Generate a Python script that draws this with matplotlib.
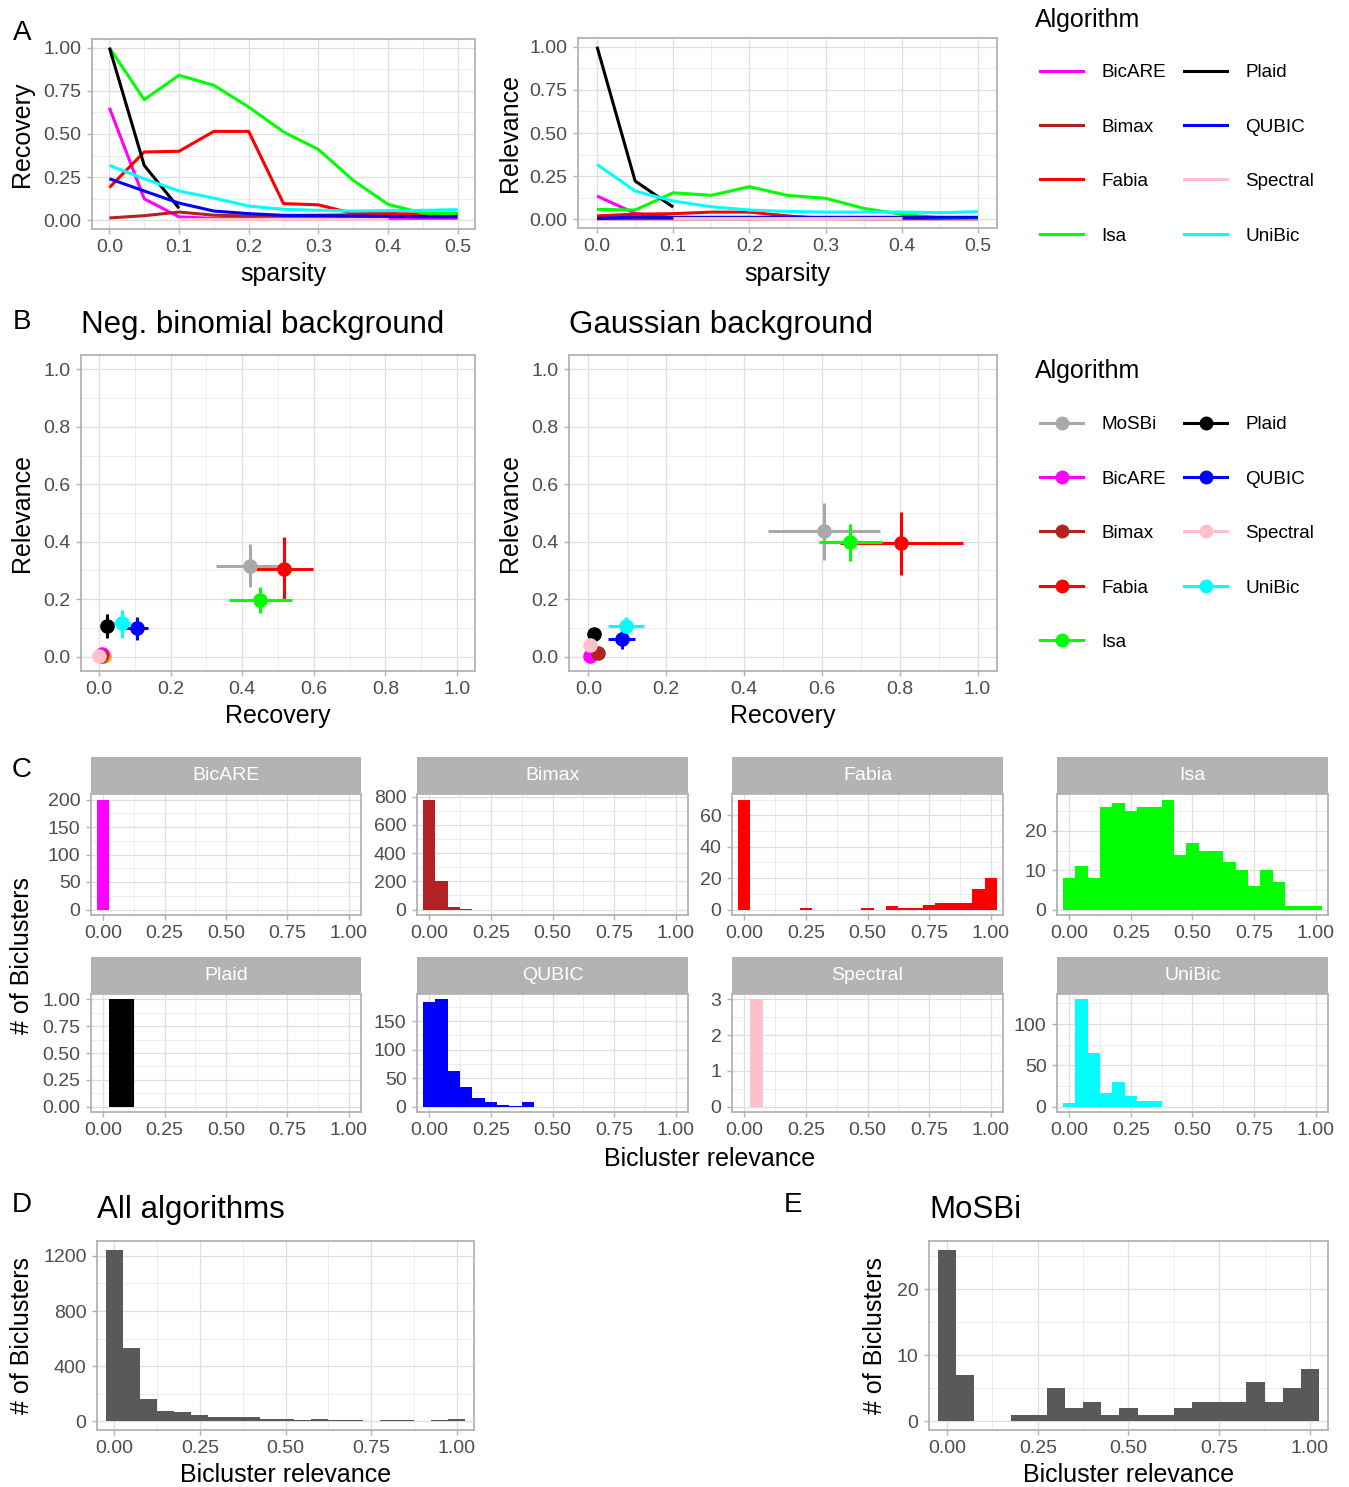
import numpy as np
import matplotlib
matplotlib.use("Agg")
import matplotlib.pyplot as plt
from matplotlib.ticker import AutoMinorLocator, FormatStrFormatter
from matplotlib.lines import Line2D

plt.rcParams['font.family'] = ['Liberation Sans', 'DejaVu Sans']

W, H = 1349, 1487
nan = np.nan

algos = ['BicARE', 'Bimax', 'Fabia', 'Isa', 'Plaid', 'QUBIC', 'Spectral', 'UniBic']
colors = {'MoSBi': '#A9A9A9', 'BicARE': '#FF00FF', 'Bimax': '#B22222',
          'Fabia': '#FF0000', 'Isa': '#00FF00', 'Plaid': '#000000',
          'QUBIC': '#0000FF', 'Spectral': '#FFC0CB', 'UniBic': '#00FFFF'}

# panel A: scores vs sparsity
sparsity = [0.0, 0.05, 0.1, 0.15, 0.2, 0.25, 0.3, 0.35, 0.4, 0.45, 0.5]
recovery = {
    'BicARE': [0.652, 0.125, 0.02, 0.012, 0.012, 0.012, 0.012, 0.012, 0.012, 0.012, 0.012],
    'Bimax': [0.014, 0.027, 0.048, 0.03, 0.025, 0.028, 0.03, 0.032, 0.035, 0.035, 0.035],
    'Fabia': [0.19, 0.396, 0.40, 0.515, 0.515, 0.097, 0.09, 0.04, 0.04, 0.035, 0.04],
    'Isa': [1.0, 0.699, 0.84, 0.782, 0.656, 0.512, 0.411, 0.232, 0.093, 0.042, 0.039],
    'Plaid': [1.0, 0.318, 0.07, nan, nan, nan, nan, nan, nan, nan, nan],
    'QUBIC': [0.241, 0.17, 0.1, 0.054, 0.039, 0.029, 0.027, 0.025, 0.023, 0.021, 0.021],
    'Spectral': [nan, nan, 0.01, 0.01, 0.01, 0.01, 0.01, 0.01, 0.01, nan, nan],
    'UniBic': [0.318, 0.241, 0.17, 0.129, 0.083, 0.064, 0.058, 0.054, 0.056, 0.058, 0.062],
}
relevance = {
    'BicARE': [0.135, 0.035, 0.01, 0.01, 0.01, 0.005, 0.005, 0.005, 0.005, 0.005, 0.005],
    'Bimax': [0.003, 0.003, 0.003, 0.003, 0.003, 0.004, 0.004, 0.003, 0.003, 0.003, 0.003],
    'Fabia': [0.02, 0.03, 0.033, 0.042, 0.042, 0.02, 0.005, 0.005, 0.005, 0.005, 0.005],
    'Isa': [0.058, 0.054, 0.154, 0.139, 0.189, 0.139, 0.122, 0.064, 0.029, 0.01, 0.006],
    'Plaid': [1.0, 0.222, 0.071, nan, nan, nan, nan, nan, nan, nan, nan],
    'QUBIC': [0.006, 0.013, 0.012, 0.012, 0.012, 0.012, 0.012, 0.012, 0.012, 0.012, 0.012],
    'Spectral': [nan, nan, 0.008, 0.008, 0.008, 0.008, 0.008, 0.008, 0.008, nan, nan],
    'UniBic': [0.318, 0.164, 0.106, 0.073, 0.054, 0.046, 0.042, 0.042, 0.042, 0.039, 0.044],
}

# panel B: mean recovery/relevance with ranges
b_algos = ['MoSBi', 'BicARE', 'Bimax', 'Fabia', 'Isa', 'Plaid', 'QUBIC', 'Spectral', 'UniBic']
nb_x = [0.423, 0.009, 0.005, 0.517, 0.451, 0.023, 0.106, 0.0, 0.064]
nb_y = [0.317, 0.010, 0.003, 0.306, 0.197, 0.107, 0.098, 0.003, 0.117]
nb_xlo = [0.327, 0.009, 0.005, 0.435, 0.364, 0.016, 0.077, 0.0, 0.038]
nb_xhi = [0.521, 0.009, 0.005, 0.598, 0.538, 0.030, 0.137, 0.0, 0.090]
nb_ylo = [0.242, 0.010, 0.003, 0.200, 0.151, 0.064, 0.057, 0.003, 0.064]
nb_yhi = [0.393, 0.010, 0.003, 0.416, 0.241, 0.148, 0.137, 0.003, 0.163]
nb_extra_x, nb_extra_y = [0.014], [0.002]   # orange point without legend entry

g_x = [0.605, 0.003, 0.025, 0.802, 0.673, 0.014, 0.085, 0.005, 0.097]
g_y = [0.436, 0.001, 0.014, 0.395, 0.399, 0.080, 0.061, 0.040, 0.105]
g_xlo = [0.462, 0.003, 0.025, 0.647, 0.592, 0.014, 0.051, 0.005, 0.051]
g_xhi = [0.750, 0.003, 0.025, 0.962, 0.754, 0.014, 0.120, 0.005, 0.143]
g_ylo = [0.335, 0.001, 0.014, 0.284, 0.334, 0.080, 0.027, 0.040, 0.073]
g_yhi = [0.536, 0.001, 0.014, 0.502, 0.462, 0.080, 0.094, 0.040, 0.138]

# panel C-E: histograms of bicluster relevance (bins of width 0.05)
bin_centers = np.round(np.arange(21) * 0.05, 2)
hist = {
    'BicARE': [200] + [0] * 20,
    'Bimax': [780, 200, 15, 5] + [0] * 17,
    'Fabia': [70, 0, 0, 0, 0, 1, 0, 0, 0, 0, 1, 0, 2, 1, 1, 3, 4, 4, 4, 13, 20],
    'Isa': [8, 11, 8, 26, 27, 25, 26, 26, 28, 14, 17, 15, 15, 12, 10, 6, 10, 7, 1, 1, 1],
    'Plaid': [0, 1, 1] + [0] * 18,
    'QUBIC': [183, 188, 62, 35, 15, 8, 3, 1, 8] + [0] * 12,
    'Spectral': [0, 3] + [0] * 19,
    'UniBic': [5, 130, 65, 17, 30, 13, 7, 7] + [0] * 13,
}
hist_yticks = {
    'BicARE': [0, 50, 100, 150, 200], 'Bimax': [0, 200, 400, 600, 800],
    'Fabia': [0, 20, 40, 60], 'Isa': [0, 10, 20], 'Plaid': [0, 0.25, 0.5, 0.75, 1.0],
    'QUBIC': [0, 50, 100, 150], 'Spectral': [0, 1, 2, 3], 'UniBic': [0, 50, 100],
}
all_counts = [1245, 533, 160, 78, 70, 50, 35, 35, 35, 15, 20, 10, 18, 12, 12, 5, 10, 10, 5, 10, 18]
mosbi_counts = [26, 7, 0, 0, 1, 1, 5, 2, 3, 1, 2, 1, 1, 2, 3, 3, 3, 6, 3, 5, 8]

fig = plt.figure(figsize=(W / 100, H / 100), dpi=100)

TICK = 14
AXT = 18
TITLE = 22.5


def px_axes(l, t, r, b):
    return fig.add_axes([l / W, 1 - b / H, (r - l) / W, (b - t) / H])


def ftext(x, y, s, **kw):
    kw.setdefault('ha', 'center')
    kw.setdefault('va', 'center')
    fig.text(x / W, 1 - y / H, s, **kw)


def style(ax, size=TICK):
    for s in ax.spines.values():
        s.set_color('#B3B3B3')
        s.set_linewidth(1.3)
    ax.xaxis.set_minor_locator(AutoMinorLocator(2))
    ax.yaxis.set_minor_locator(AutoMinorLocator(2))
    ax.grid(True, which='major', color='#DEDEDE', lw=0.9)
    ax.grid(True, which='minor', color='#E6E6E6', lw=0.5)
    ax.set_axisbelow(True)
    ax.tick_params(which='major', color='#B3B3B3', length=3.5, width=1,
                   labelcolor='#4D4D4D', labelsize=size, pad=4)
    ax.tick_params(which='minor', length=0)


# ---- A
for (l, t, r, b), data, lab, lx in [((92, 39, 475, 229), recovery, 'Recovery', 22),
                                    ((578, 38, 997, 228), relevance, 'Relevance', 510)]:
    ax = px_axes(l, t, r, b)
    for a in algos:
        ax.plot(sparsity, data[a], color=colors[a], lw=2.2, solid_capstyle='butt')
    ax.set_xlim(-0.025, 0.525)
    ax.set_ylim(-0.05, 1.05)
    ax.set_xticks([0, 0.1, 0.2, 0.3, 0.4, 0.5])
    ax.set_yticks([0, 0.25, 0.5, 0.75, 1.0])
    ax.xaxis.set_major_formatter(FormatStrFormatter('%.1f'))
    ax.yaxis.set_major_formatter(FormatStrFormatter('%.2f'))
    style(ax)
    ftext(lx, (t + b) / 2, lab, rotation=90, fontsize=AXT)
    ftext((l + r) / 2, 274, 'sparsity', fontsize=AXT)

ftext(1035, 20, 'Algorithm', ha='left', fontsize=18)
hA = [Line2D([], [], color=colors[a], lw=2.2) for a in algos]
fig.legend(hA, algos, ncol=2, loc='upper left', bbox_to_anchor=(1040 / W, 1 - 64 / H),
           frameon=False, fontsize=13.6, handlelength=2.3, handletextpad=0.95,
           columnspacing=0.95, labelspacing=1.97, borderpad=0, borderaxespad=0)

# ---- B
for (l, t, r, b), vals, title, lx in [
        ((81, 355, 475, 671), (nb_x, nb_y, nb_xlo, nb_xhi, nb_ylo, nb_yhi), 'Neg. binomial background', 22),
        ((569, 355, 997, 671), (g_x, g_y, g_xlo, g_xhi, g_ylo, g_yhi), 'Gaussian background', 510)]:
    ax = px_axes(l, t, r, b)
    xs, ys, xlo, xhi, ylo, yhi = vals
    if title.startswith('Neg'):
        ax.plot(nb_extra_x, nb_extra_y, 'o', color='#FFA500', ms=9.5)
    for i, a in enumerate(b_algos):
        ax.errorbar([xs[i]], [ys[i]],
                    xerr=[[xs[i] - xlo[i]], [xhi[i] - xs[i]]],
                    yerr=[[ys[i] - ylo[i]], [yhi[i] - ys[i]]],
                    fmt='o', color=colors[a], ms=9.5, elinewidth=2.2, capsize=0)
    ax.set_xlim(-0.05, 1.05)
    ax.set_ylim(-0.05, 1.05)
    ax.set_xticks(np.arange(0, 1.01, 0.2))
    ax.set_yticks(np.arange(0, 1.01, 0.2))
    ax.xaxis.set_major_formatter(FormatStrFormatter('%.1f'))
    ax.yaxis.set_major_formatter(FormatStrFormatter('%.1f'))
    style(ax)
    ftext(lx, (t + b) / 2, 'Relevance', rotation=90, fontsize=AXT)
    ftext((l + r) / 2, 716, 'Recovery', fontsize=AXT)
    ftext(l, 325, title, ha='left', fontsize=TITLE)

ftext(1035, 371, 'Algorithm', ha='left', fontsize=18)
hB = [Line2D([], [], color=colors[a], lw=2.2, marker='o', ms=9) for a in b_algos]
fig.legend(hB, b_algos, ncol=2, loc='upper left', bbox_to_anchor=(1040 / W, 1 - 416 / H),
           frameon=False, fontsize=13.6, handlelength=2.3, handletextpad=0.95,
           columnspacing=0.95, labelspacing=1.97, borderpad=0, borderaxespad=0)

# ---- C
cols = [(91, 361), (417, 688), (732, 1003), (1057, 1328)]
rows = [(757, 794, 915), (957, 994, 1112)]
for k, a in enumerate(algos):
    st, pt, pb = rows[k // 4]
    l, r = cols[k % 4]
    ax = px_axes(l, pt, r, pb)
    ax.bar(bin_centers, hist[a], width=0.05, color=colors[a], lw=0)
    top = max(hist[a])
    ax.set_xlim(-0.05, 1.05)
    ax.set_ylim(-0.05 * top, 1.05 * top)
    ax.set_xticks([0, 0.25, 0.5, 0.75, 1.0])
    ax.xaxis.set_major_formatter(FormatStrFormatter('%.2f'))
    ax.set_yticks(hist_yticks[a])
    if a == 'Plaid':
        ax.yaxis.set_major_formatter(FormatStrFormatter('%.2f'))
    style(ax, size=TICK)
    sax = px_axes(l, st, r, pt)
    sax.set_facecolor('#B3B3B3')
    sax.set_xticks([])
    sax.set_yticks([])
    for s in sax.spines.values():
        s.set_visible(False)
    sax.text(0.5, 0.5, a, color='white', fontsize=14, ha='center', va='center',
             transform=sax.transAxes)

ftext(22, 955, '# of Biclusters', rotation=90, fontsize=AXT)
ftext(710, 1159, 'Bicluster relevance', fontsize=AXT)

# ---- D / E
for (l, t, r, b), counts, color, title, yt, lx in [
        ((97, 1241, 474, 1430), all_counts, '#595959', 'All algorithms', [0, 400, 800, 1200], 22),
        ((929, 1241, 1328, 1430), mosbi_counts, '#595959', 'MoSBi', [0, 10, 20], 875)]:
    ax = px_axes(l, t, r, b)
    ax.bar(bin_centers, counts, width=0.05, color=color, lw=0)
    top = max(counts)
    ax.set_xlim(-0.05, 1.05)
    ax.set_ylim(-0.05 * top, 1.05 * top)
    ax.set_xticks([0, 0.25, 0.5, 0.75, 1.0])
    ax.xaxis.set_major_formatter(FormatStrFormatter('%.2f'))
    ax.set_yticks(yt)
    style(ax)
    ftext(lx, (t + b) / 2, '# of Biclusters', rotation=90, fontsize=AXT)
    ftext((l + r) / 2, 1475, 'Bicluster relevance', fontsize=AXT)
    ftext(l, 1210, title, ha='left', fontsize=TITLE)

for letter, x, y in [('A', 22, 33), ('B', 22, 322), ('C', 22, 770), ('D', 22, 1205), ('E', 793, 1205)]:
    ftext(x, y, letter, fontsize=20)

fig.savefig('out.png', dpi=100)
